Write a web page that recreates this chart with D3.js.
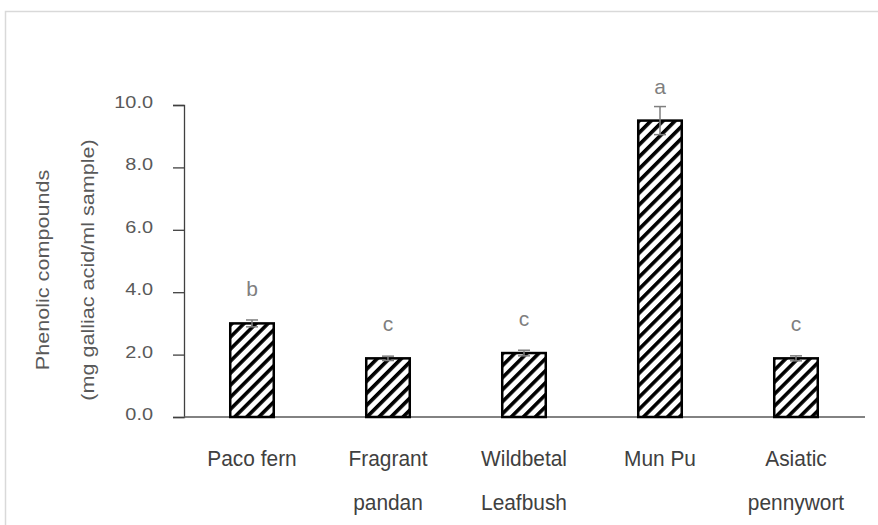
<!DOCTYPE html>
<html lang="en">
<head>
    <meta charset="UTF-8">
    <title></title>
    <script src="https://d3js.org/d3.v7.min.js"></script>
    <style>
        body { margin: 0; background: #fff; }
        text { font-family: "Liberation Sans", Arial, sans-serif; }
    </style>
</head>
<body>

<script>
    // data
    var categories = ["Paco fern", "Fragrant pandan", "Wildbetal Leafbush", "Mun Pu", "Asiatic pennywort"];
    var labelLines = [["Paco fern"], ["Fragrant", "pandan"], ["Wildbetal", "Leafbush"], ["Mun Pu"], ["Asiatic", "pennywort"]];
    var values = [3.0, 1.88, 2.05, 9.5, 1.88];
    var errors = [0.11, 0.07, 0.09, 0.45, 0.08];
    var letters = ["b", "c", "c", "a", "c"];
    var yTicks = [0, 2, 4, 6, 8, 10];

    var width = 878,
            height = 525;

    var svg = d3.select("body").append("svg")
            .attr("width", width)
            .attr("height", height);

    // outer frame (runs off right and bottom)
    svg.append("rect")
            .attr("x", 5.5)
            .attr("y", 11.5)
            .attr("width", 900)
            .attr("height", 600)
            .attr("fill", "none")
            .attr("stroke", "#d9d9d9")
            .attr("stroke-width", 1.5);

    // hatch pattern
    var defs = svg.append("defs");
    var pat = defs.append("pattern")
            .attr("id", "hatch")
            .attr("patternUnits", "userSpaceOnUse")
            .attr("width", 8.5)
            .attr("height", 8.5)
            .attr("patternTransform", "rotate(45)");
    pat.append("rect").attr("width", 8.5).attr("height", 8.5).attr("fill", "#fff");
    pat.append("rect").attr("x", 0).attr("width", 3.6).attr("height", 8.5).attr("fill", "#000");

    var x = d3.scaleBand()
            .domain(categories)
            .range([184, 864])
            .padding(0);

    var y = d3.scaleLinear()
            .domain([0, 10])
            .range([417, 105]);

    var barW = x.bandwidth() * 0.32;

    // y axis
    var yAxis = d3.axisLeft(y)
            .tickValues(yTicks)
            .tickSize(11)
            .tickFormat(d3.format(".1f"));

    var gy = svg.append("g")
            .attr("transform", "translate(184,0)")
            .call(yAxis);
    gy.select(".domain").attr("stroke", "#404040").attr("stroke-width", 1.3);
    gy.selectAll(".tick line").attr("stroke", "#404040").attr("stroke-width", 1.3);
    gy.selectAll(".tick text")
            .attr("x", -31 / 1.17)
            .attr("dy", "0.15em")
            .attr("transform", "scale(1.17,1)")
            .attr("fill", "#595959")
            .style("font-size", "17px")
            .style("font-family", "'Liberation Sans', Arial, sans-serif");

    // x axis line
    svg.append("line")
            .attr("x1", 184)
            .attr("x2", 865)
            .attr("y1", y(0))
            .attr("y2", y(0))
            .attr("stroke", "#595959")
            .attr("stroke-width", 1.3);

    // bars
    svg.selectAll(".bar")
            .data(values)
            .enter()
            .append("rect")
            .attr("class", "bar")
            .attr("x", function (d, i) { return x(categories[i]) + x.bandwidth() / 2 - barW / 2; })
            .attr("y", function (d) { return y(d); })
            .attr("width", barW)
            .attr("height", function (d) { return y(0) - y(d); })
            .attr("fill", "url(#hatch)")
            .attr("stroke", "#000")
            .attr("stroke-width", 2.5);

    // error bars
    var eb = svg.selectAll(".err")
            .data(values)
            .enter()
            .append("g")
            .attr("class", "err")
            .attr("stroke", "#7f7f7f")
            .attr("stroke-width", 1.5);
    function cx(i) { return x(categories[i]) + x.bandwidth() / 2; }
    eb.append("line")
            .attr("x1", function (d, i) { return cx(i); })
            .attr("x2", function (d, i) { return cx(i); })
            .attr("y1", function (d, i) { return y(d + errors[i]); })
            .attr("y2", function (d, i) { return y(d - errors[i]); });
    eb.append("line")
            .attr("x1", function (d, i) { return cx(i) - 6; })
            .attr("x2", function (d, i) { return cx(i) + 6; })
            .attr("y1", function (d, i) { return y(d + errors[i]); })
            .attr("y2", function (d, i) { return y(d + errors[i]); });
    eb.append("line")
            .attr("x1", function (d, i) { return cx(i) - 6; })
            .attr("x2", function (d, i) { return cx(i) + 6; })
            .attr("y1", function (d, i) { return y(d - errors[i]); })
            .attr("y2", function (d, i) { return y(d - errors[i]); });

    // significance letters
    svg.selectAll(".letter")
            .data(values)
            .enter()
            .append("text")
            .attr("class", "letter")
            .attr("x", function (d, i) { return cx(i); })
            .attr("y", function (d) { return y(d) - 27; })
            .attr("text-anchor", "middle")
            .attr("fill", "#7f7f7f")
            .style("font-size", "21px")
            .text(function (d, i) { return letters[i]; });

    // category labels
    var lab = svg.selectAll(".cat")
            .data(labelLines)
            .enter()
            .append("g")
            .attr("class", "cat")
            .attr("transform", function (d, i) { return "translate(" + cx(i) + ",0) scale(0.95,1)"; });
    lab.selectAll("text")
            .data(function (d) { return d; })
            .enter()
            .append("text")
            .attr("x", 0)
            .attr("y", function (d, j) { return 466 + j * 44; })
            .attr("text-anchor", "middle")
            .attr("fill", "#404040")
            .style("font-size", "22px")
            .text(function (d) { return d; });

    // y title, two lines
    var titles = ["Phenolic compounds", "(mg galliac acid/ml sample)"];
    svg.selectAll(".ytitle")
            .data(titles)
            .enter()
            .append("text")
            .attr("class", "ytitle")
            .attr("transform", function (d, i) {
                return "translate(" + (49 + i * 45) + ",270) rotate(-90) scale(1.2,1)";
            })
            .attr("text-anchor", "middle")
            .attr("fill", "#595959")
            .style("font-size", "18px")
            .text(function (d) { return d; });

</script>

</body>
</html>
